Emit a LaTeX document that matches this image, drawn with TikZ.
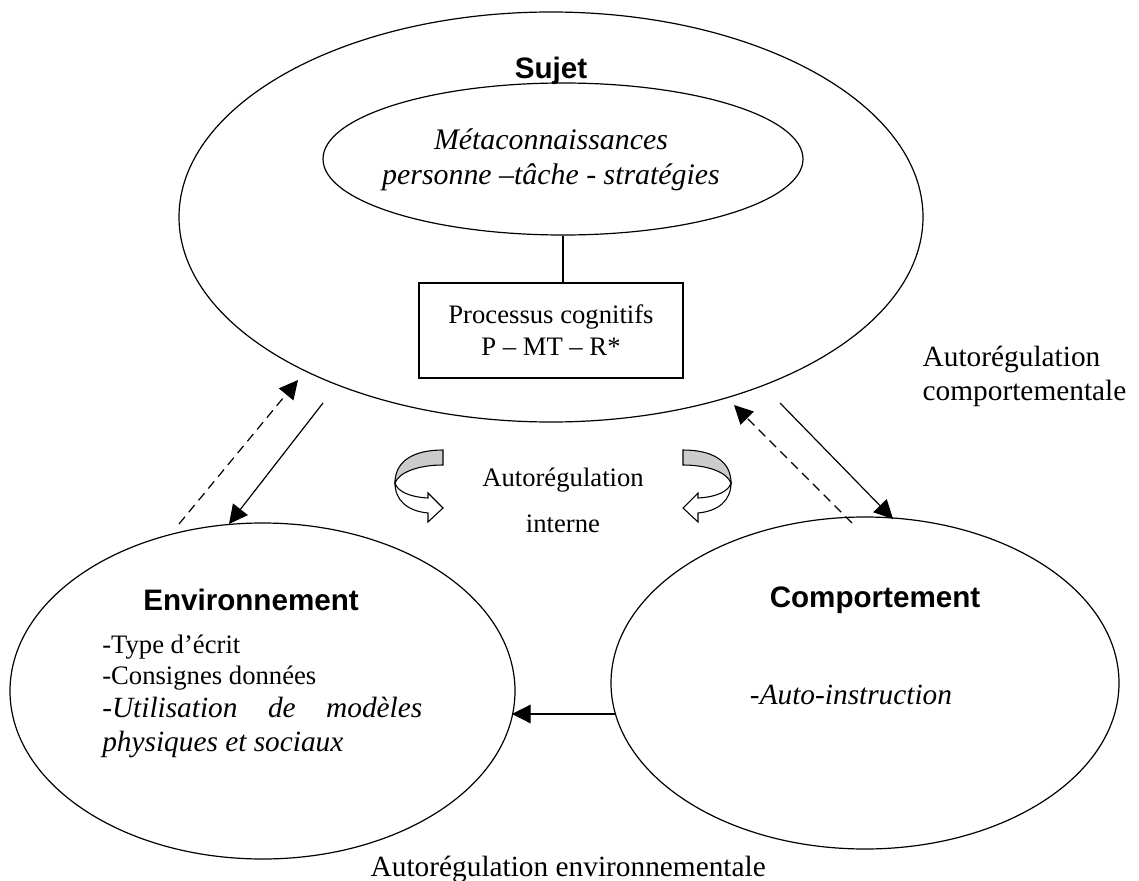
\documentclass[tikz,border=0pt]{standalone}
\usepackage{fontspec}
\setmainfont{Liberation Serif}
\newfontfamily\titlefont{Liberation Sans}
\usetikzlibrary{shapes.geometric,arrows.meta}
\tikzstyle{bulle} = [ellipse, draw=black, line width=0.9pt, inner sep=0pt]
\tikzstyle{titre} = [font=\titlefont\bfseries\fontsize{22.2}{26}\selectfont]
\tikzstyle{texte} = [font=\fontsize{20}{24}\selectfont]
\tikzstyle{grand} = [font=\fontsize{22}{25}\selectfont]
\tikzstyle{fleche} = [line width=0.9pt, -{Triangle[length=14pt,width=14pt]}]
\tikzstyle{retour} = [fleche, dash pattern=on 7pt off 4.5pt]
\newcommand{\boucle}{%
  \filldraw[fill=gray!40, line width=0.8pt] (0,0) .. controls (-28,0) and (-48,10) .. (-48,33)
    .. controls (-44,22) and (-24,15) .. (0,15) -- cycle;
  \filldraw[fill=white, line width=0.8pt] (-48,33) .. controls (-46,41) and (-34,47) .. (-15,48)
    -- (-15,43) -- (0,58) -- (-15,72) -- (-15,63) .. controls (-36,61) and (-48,50) .. (-48,33) -- cycle;}

\begin{document}
\begin{tikzpicture}[x=0.75pt, y=-0.75pt]
\useasboundingbox (0,0) rectangle (1139,881);
% sujet
\node[bulle, minimum width=558pt, minimum height=307.5pt] (sujet) at (551,217) {};
\node[titre] (sujettitre) at (551,71) {Sujet};
\node[bulle, minimum width=360pt, minimum height=114pt] (meta) at (563,159) {};
\node[align=center, font=\itshape\fontsize{22.4}{26}\selectfont] (metatexte) at (551,160)
  {Métaconnaissances\\personne –tâche - stratégies};
\node[draw, line width=0.8pt, minimum width=198pt, minimum height=71.25pt, texte,
  align=center] (proc) at (551,330.5) {Processus cognitifs\\P – MT – R*};
\draw[line width=0.8pt] (meta.south) -- (meta.south |- proc.north);

% environnement et comportement
\node[bulle, minimum width=378.75pt, minimum height=252pt] (env) at (262.5,691) {};
\node[titre] (envtitre) at (251,600) {Environnement};
\node[text width=240pt, align=justify, inner sep=0pt, anchor=north west] (envliste)
  at (102,635)
  {\fontsize{20}{23}\selectfont -Type d’écrit\par -Consignes données\par
   \fontsize{22}{25}\selectfont -\textit{Utilisation de modèles physiques et sociaux}\par};
\node[bulle, minimum width=381pt, minimum height=249pt] (comp) at (865,683) {};
\node[titre] (comptitre) at (875,600) {Comportement};
\node[grand] (compliste) at (851,695) {-\textit{Auto-instruction}};

% textes
\node[texte, align=center] (interne) at (563,500) {Autorégulation\\[10.5pt]interne};
\node[grand, align=left, anchor=west] (compreg) at (918,376.5)
  {Autorégulation\\comportementale};
\node[grand, anchor=base west] (envreg) at (366,876) {Autorégulation environnementale};

% fleches
\coordinate (s1) at (323,403); \coordinate (e1) at (229,524);
\coordinate (e2) at (179,524); \coordinate (s2) at (298,380);
\coordinate (s3) at (780,403); \coordinate (c1) at (893,519);
\coordinate (c2) at (852,523); \coordinate (s4) at (734,405);
\coordinate (c3) at (615,714); \coordinate (e3) at (512,714);
\draw[fleche] (s1) -- (e1);
\draw[retour] (e2) -- (s2);
\draw[fleche] (s3) -- (c1);
\draw[retour] (c2) -- (s4);
\draw[fleche] (c3) -- (e3);

% boucles
\begin{scope}[shift={(443,450)}]
\boucle
\end{scope}
\begin{scope}[shift={(683,450)}, xscale=-1]
\boucle
\end{scope}
\end{tikzpicture}
\end{document}
